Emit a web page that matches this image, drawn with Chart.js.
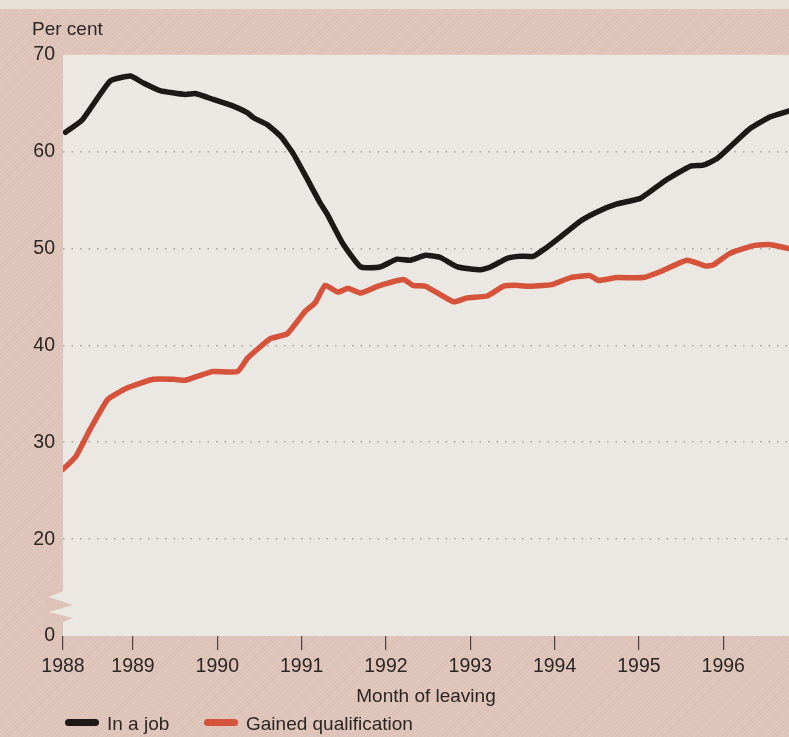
<!DOCTYPE html>
<html>
<head>
<meta charset="utf-8">
<script src="https://cdn.jsdelivr.net/npm/chart.js@4/dist/chart.umd.min.js"></script>
<style>
    body { margin: 0; }
    #wrap {
        position: relative;
        width: 789px;
        height: 737px;
        overflow: hidden;
        background-color: #ddc2b7;
        background-image: repeating-linear-gradient(135deg, rgba(255,255,255,0.10) 0 1px, rgba(0,0,0,0) 1px 3px);
        font-family: 'Liberation Sans', Arial, sans-serif;
        color: #2b2624;
    }
    #wrap::before {
        content: '';
        position: absolute;
        left: 0; top: 0; right: 0;
        height: 9px;
        background: #e6e0d8;
    }
    #chart { position: absolute; left: 0; top: 0; }
    .key {
        position: absolute;
        top: 714px;
        font-size: 19px;
        line-height: 20px;
        white-space: nowrap;
    }
    .key i {
        display: inline-block;
        width: 34px;
        height: 7px;
        border-radius: 4px;
        margin-right: 8px;
        vertical-align: 4px;
    }
</style>
</head>
<body>
<div id="wrap">
    <canvas id="chart" width="789" height="737"></canvas>
    <div class="key" style="left:65px"><i style="background:#1d1917"></i>In a job</div>
    <div class="key" style="left:204px"><i style="background:#d4533a"></i>Gained qualification</div>
</div>
<script>
// ====== Data (month of leaving as decimal year) ======
const jobYears = [1988.20, 1988.40, 1988.73, 1988.97, 1989.12, 1989.32, 1989.62, 1989.74, 1989.95, 1990.19,
    1990.36, 1990.43, 1990.59, 1990.75, 1990.90, 1991.04, 1991.22, 1991.30, 1991.49, 1991.70,
    1991.93, 1992.13, 1992.29, 1992.47, 1992.64, 1992.85, 1993.12, 1993.24, 1993.44, 1993.59,
    1993.75, 1993.89, 1994.07, 1994.30, 1994.51, 1994.74, 1995.02, 1995.31, 1995.61, 1995.76,
    1995.93, 1996.32, 1996.56, 1996.78];
const jobValues = [62.0, 63.3, 67.3, 67.8, 67.1, 66.3, 65.9, 66.0, 65.4, 64.7,
    64.0, 63.5, 62.8, 61.6, 59.8, 57.6, 54.7, 53.6, 50.5, 48.1,
    48.1, 48.9, 48.8, 49.3, 49.1, 48.1, 47.8, 48.1, 49.0, 49.2,
    49.2, 50.0, 51.2, 52.8, 53.8, 54.6, 55.2, 57.0, 58.5, 58.6,
    59.3, 62.4, 63.6, 64.2];

const qualYears = [1988.17, 1988.32, 1988.49, 1988.70, 1988.93, 1989.24, 1989.48, 1989.62, 1989.76, 1989.95,
    1990.24, 1990.36, 1990.63, 1990.83, 1991.04, 1991.16, 1991.28, 1991.43, 1991.55, 1991.70,
    1991.90, 1992.21, 1992.32, 1992.47, 1992.80, 1992.96, 1993.20, 1993.39, 1993.53, 1993.68,
    1993.89, 1993.98, 1994.19, 1994.42, 1994.52, 1994.74, 1995.05, 1995.25, 1995.57, 1995.79,
    1995.88, 1996.08, 1996.36, 1996.56, 1996.78];
const qualValues = [27.2, 28.5, 31.3, 34.4, 35.6, 36.5, 36.5, 36.4, 36.8, 37.3,
    37.3, 38.7, 40.7, 41.2, 43.5, 44.4, 46.2, 45.5, 45.9, 45.4,
    46.1, 46.8, 46.2, 46.1, 44.5, 44.9, 45.1, 46.1, 46.2, 46.1,
    46.2, 46.3, 47.0, 47.2, 46.7, 47.0, 47.0, 47.6, 48.8, 48.2,
    48.3, 49.5, 50.3, 50.4, 50.0];

// x axis: series start early in 1988, first tick stands for 1988
const xMin = 1988.17;
const xMax = 1996.78;
const yearTickValues = [1988.17, 1989, 1990, 1991, 1992, 1993, 1994, 1995, 1996];
const yearTickLabels = ['1988', '1989', '1990', '1991', '1992', '1993', '1994', '1995', '1996'];

// y axis is broken below 20: the bottom tick is labelled 0
const yTickValues = [10, 20, 30, 40, 50, 60, 70];
const yTickLabels = ['0', '20', '30', '40', '50', '60', '70'];

const textColor = '#2b2624';
const plotBg = '#ebe8e3';
const pinkBg = '#ddc2b7';

// ====== Plot background + axis break ======
const plotArea = {
    id: 'plotArea',
    beforeDraw(chart) {
        const { ctx, chartArea: a } = chart;
        ctx.save();
        ctx.fillStyle = plotBg;
        ctx.fillRect(a.left, a.top, a.right - a.left, a.bottom - a.top);

        // zigzag break on the y axis
        const b = a.bottom, l = a.left;
        const zig = [[l, b - 45], [l - 15, b - 39], [l + 10, b - 31], [l - 15, b - 24], [l + 10, b - 18], [l, b - 14]];
        ctx.fillStyle = plotBg;
        ctx.beginPath();
        zig.forEach(([x, y], i) => i ? ctx.lineTo(x, y) : ctx.moveTo(x, y));
        ctx.lineTo(l + 14, b - 14); ctx.lineTo(l + 14, b - 45);
        ctx.fill();
        ctx.fillStyle = pinkBg;
        ctx.beginPath();
        zig.forEach(([x, y], i) => i ? ctx.lineTo(x, y) : ctx.moveTo(x, y));
        ctx.lineTo(l - 18, b - 14); ctx.lineTo(l - 18, b - 45);
        ctx.fill();
        ctx.restore();
    }
};

const font = { family: "'Liberation Sans', Arial, sans-serif", size: 19, weight: 'normal' };

new Chart(document.getElementById('chart'), {
    type: 'line',
    data: {
        datasets: [
            {
                label: 'Gained qualification',
                data: qualYears.map((x, i) => ({ x, y: qualValues[i] })),
                borderColor: '#d4533a',
                borderWidth: 5.5,
                pointRadius: 0,
                tension: 0.15,
                borderJoinStyle: 'round',
                borderCapStyle: 'round'
            },
            {
                label: 'In a job',
                data: jobYears.map((x, i) => ({ x, y: jobValues[i] })),
                borderColor: '#1d1917',
                borderWidth: 5.5,
                pointRadius: 0,
                tension: 0.15,
                borderJoinStyle: 'round',
                borderCapStyle: 'round'
            }
        ]
    },
    options: {
        responsive: false,
        animation: false,
        layout: { padding: { left: 32, top: 8, right: 0, bottom: 29 } },
        plugins: {
            legend: { display: false },
            tooltip: { enabled: false },
            title: {
                display: true,
                text: 'Per cent',
                align: 'start',
                color: textColor,
                font: font,
                padding: { top: 10, bottom: 14 }
            }
        },
        scales: {
            x: {
                type: 'linear',
                min: xMin,
                max: xMax,
                afterBuildTicks: s => { s.ticks = yearTickValues.map(v => ({ value: v })); },
                afterFit: s => { s.height = 72; },
                border: { display: false },
                grid: { drawOnChartArea: false, drawTicks: true, tickLength: 14, color: '#4a4240', lineWidth: 1.2 },
                ticks: {
                    padding: 5,
                    color: textColor,
                    font: { ...font, size: 19.5 },
                    maxRotation: 0,
                    autoSkip: false,
                    callback: (v, i) => yearTickLabels[i]
                },
                title: { display: true, text: 'Month of leaving', color: textColor, font: font, padding: 0 }
            },
            y: {
                min: 10,
                max: 70,
                afterBuildTicks: s => { s.ticks = yTickValues.map(v => ({ value: v })); },
                afterFit: s => { s.width = 31; },
                border: { display: false, dash: [1.6, 6.9] },
                grid: {
                    drawTicks: false,
                    lineWidth: 1.6,
                    color: c => (c.tick.value > 10 && c.tick.value < 70) ? 'rgba(115,105,100,0.55)' : 'rgba(0,0,0,0)'
                },
                ticks: {
                    padding: 8,
                    color: textColor,
                    font: { ...font, size: 19.5 },
                    callback: (v, i) => yTickLabels[i]
                }
            }
        }
    },
    plugins: [plotArea]
});
</script>
</body>
</html>
